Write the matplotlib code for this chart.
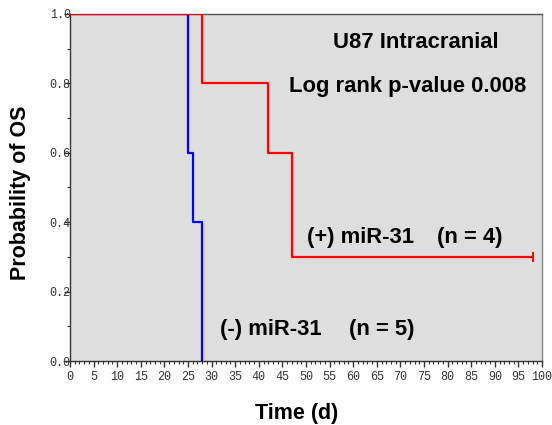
import matplotlib
matplotlib.use("Agg")
import matplotlib.pyplot as plt
from matplotlib.ticker import MultipleLocator

# Kaplan-Meier step data
neg_times = [0, 25, 26, 28]
neg_surv = [1.0, 0.6, 0.4, 0.0]
pos_times = [0, 28, 42, 47, 98]
pos_surv = [1.0, 0.8, 0.6, 0.3, 0.3]
censor_times = [98]
censor_surv = [0.3]

x_ticks = list(range(0, 101, 5))
y_ticks = [0.0, 0.2, 0.4, 0.6, 0.8, 1.0]

fig = plt.figure(figsize=(5.52, 4.25), dpi=100)
ax = fig.add_axes([70/552, 64/425, 472/552, 347/425])
ax.set_facecolor("#DEDEDE")

ax.step(neg_times, neg_surv, where="post", color="#0000FF", lw=1.6, zorder=3)
ax.step(pos_times, pos_surv, where="post", color="#FF0000", lw=1.6, zorder=4)
ax.plot(censor_times, censor_surv, marker="|", color="#FF0000", ms=7, mew=1.4, ls="none", zorder=4)

ax.set_xlim(0, 100)
ax.set_ylim(0, 1.0)
ax.set_xticks(x_ticks)
ax.set_yticks(y_ticks)
ax.set_yticklabels([f"{v:.1f}" for v in y_ticks])
ax.xaxis.set_minor_locator(MultipleLocator(1))
ax.yaxis.set_minor_locator(MultipleLocator(0.1))

for lab in ax.get_xticklabels() + ax.get_yticklabels():
    lab.set_family("Liberation Mono")
    lab.set_fontsize(8.5)
ax.tick_params(axis="x", which="major", length=4, width=1, pad=3, colors="#333333", labelcolor="#333333")
ax.tick_params(axis="x", which="minor", length=2.2, width=0.8, colors="#333333")
ax.tick_params(axis="y", which="major", length=4, width=1, pad=-4.5, colors="#333333", labelcolor="#333333")
ax.tick_params(axis="y", which="minor", length=2.2, width=0.8, colors="#333333")

ax.spines["left"].set_color("#333333")
ax.spines["bottom"].set_color("#333333")
ax.spines["top"].set_color("#555555")
ax.spines["right"].set_color("#888888")
for s in ax.spines.values():
    s.set_linewidth(1.0)

tfont = dict(family="Liberation Sans", fontweight="bold", fontsize=15.8, color="black")
ax.text(73.3, 0.918, "U87 Intracranial", ha="center", va="center", **tfont)
ax.text(71.5, 0.79, "Log rank p-value 0.008", ha="center", va="center", **tfont)
ax.text(50.2, 0.357, "(+) miR-31", ha="left", va="center", **tfont)
ax.text(77.8, 0.357, "(n = 4)", ha="left", va="center", **tfont)
ax.text(31.8, 0.092, "(-) miR-31", ha="left", va="center", **tfont)
ax.text(59.1, 0.092, "(n = 5)", ha="left", va="center", **tfont)

fig.text(297/552, 1 - 413/425, "Time (d)", ha="center", va="center",
         family="Liberation Sans", fontweight="bold", fontsize=15.5)
fig.text(21/552, 1 - 193/425, "Probability of OS", ha="center", va="center", rotation=90,
         family="Liberation Sans", fontweight="bold", fontsize=15.5)

fig.savefig("out.png", dpi=100)
